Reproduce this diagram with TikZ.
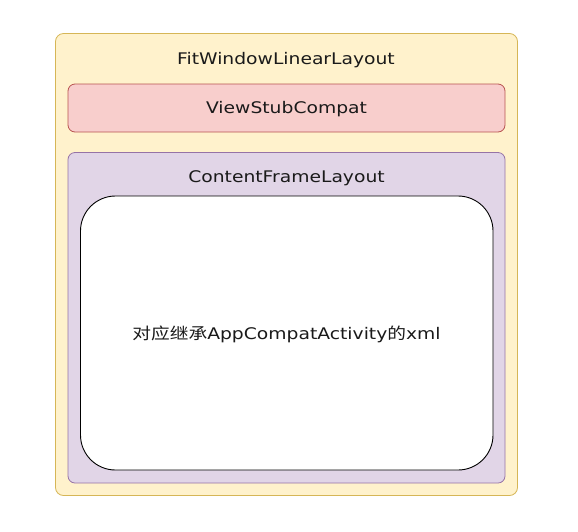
\documentclass[tikz,border=0pt]{standalone}
\usepackage{fontspec}
\setmainfont{DejaVu Sans}
\newfontfamily\cjk{Noto Sans CJK SC}
\definecolor{yfill}{HTML}{FFF2CC}
\definecolor{ydraw}{HTML}{D6B656}
\definecolor{rfill}{HTML}{F8CECC}
\definecolor{rdraw}{HTML}{B85450}
\definecolor{pfill}{HTML}{E1D5E7}
\definecolor{pdraw}{HTML}{9673A6}
\definecolor{txt}{HTML}{1A1A1A}
\newcommand{\wide}[1]{\scalebox{1.17}[1]{#1}}
\tikzset{
  lbl/.style={text=txt, font=\fontsize{16}{18}\selectfont, inner sep=0pt, anchor=center},
  boxline/.style={line width=0.8pt}
}
\begin{document}
\begin{tikzpicture}[x=1pt,y=-1pt]
\useasboundingbox (0,0) rectangle (578,531);
\draw[boxline, fill=yfill, draw=ydraw, rounded corners=8pt] (55.5,33.5) rectangle (517.5,495.5);
\node[lbl] (fit) at (286,60.5) {\wide{FitWindowLinearLayout}};
\draw[boxline, fill=rfill, draw=rdraw, rounded corners=7pt] (68,84) rectangle (505,132);
\node[lbl] (vs) at (286.5,109.5) {\wide{ViewStubCompat}};
\draw[boxline, fill=pfill, draw=pdraw, rounded corners=7pt] (68,152.5) rectangle (505,483);
\node[lbl] (cf) at (286.5,178.5) {\wide{ContentFrameLayout}};
\draw[line width=0.9pt, fill=white, draw=black, rounded corners=35pt] (80.5,196) rectangle (493,470);
\node[lbl] (xml) at (286.5,334.5) {\wide{{\cjk 对应继承}AppCompatActivity{\cjk 的}xml}};
\end{tikzpicture}
\end{document}
